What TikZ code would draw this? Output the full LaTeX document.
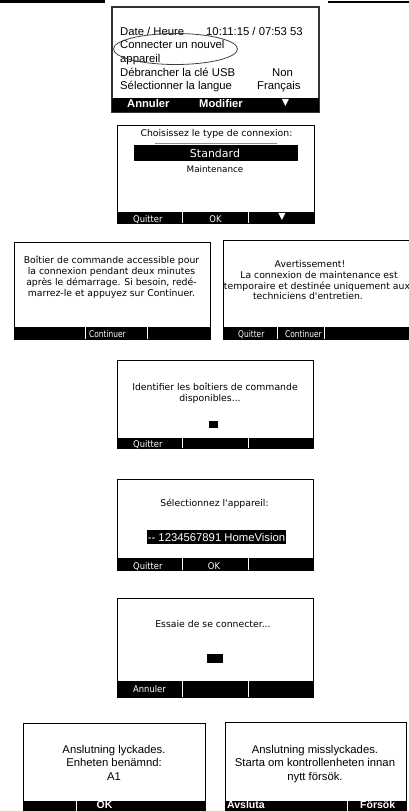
\documentclass[tikz,border=0pt]{standalone}
\usepackage{fontspec}
\setmainfont{Liberation Sans}
\newfontfamily\lcdfont{DejaVu Sans}
\newfontfamily\lcdbtnfont[FakeStretch=0.9]{DejaVu Sans}
\newfontfamily\lcdslimfont[FakeStretch=0.8]{DejaVu Sans}
\newfontfamily\symfont{DejaVu Sans}

\begin{document}
\begin{tikzpicture}[x=1pt,y=-1pt,
  frame/.style={draw=black, line width=1pt, fill=white},
  frameone/.style={draw=black!80, line width=1.4pt, fill=white},
  barfill/.style={fill=black},
  sep/.style={draw=white, line width=1pt},
  lcd/.style={font=\lcdfont\fontsize{9.3}{11}\selectfont, inner sep=0pt, anchor=base},
  lcdbtn/.style={font=\lcdbtnfont\fontsize{9.3}{11}\selectfont, inner sep=0pt, text=white, anchor=base west},
  lcdslim/.style={font=\lcdslimfont\fontsize{9.3}{11}\selectfont, inner sep=0pt, text=white, anchor=base west},
  arial/.style={font=\fontsize{11.3}{13}\selectfont, inner sep=0pt, anchor=base},
  arialleft/.style={arial, anchor=base west},
  boldbtn/.style={font=\bfseries\fontsize{11.2}{13}\selectfont, inner sep=0pt, text=white, anchor=base west},
  lowbtn/.style={font=\bfseries\fontsize{10.5}{12}\selectfont, inner sep=0pt, text=white, anchor=base west},
  tri/.style={font=\symfont\fontsize{9.5}{10}\selectfont, inner sep=0pt, text=white}
]
\useasboundingbox (0,0) rectangle (409,811);
\clip (0,0) rectangle (409,811);

% header rules
\fill (0,0) rectangle (105,2.5);
\fill (328,0.5) rectangle (409,3);

% ---------- settings menu ----------
\draw[frameone] (112,7) rectangle (319,112);
\fill[barfill] (112,98) rectangle (319,112);
\node[arialleft] (dh)   at (120,35) {Date / Heure};
\node[arialleft] (dhv)  at (206,35) {10:11:15 / 07:53 53};
\node[arialleft] (cn1)  at (120,48) {Connecter un nouvel};
\node[arialleft] (cn2)  at (120,62) {appareil};
\node[arialleft] (usb)  at (120,76) {Débrancher la clé USB};
\node[arialleft] (usbv) at (272,76) {Non};
\node[arialleft] (lng)  at (120,89) {Sélectionner la langue};
\node[arialleft] (lngv) at (257,89) {Français};
\node[boldbtn] (m1a) at (127,107) {Annuler};
\node[boldbtn] (m1b) at (199,107) {Modifier};
\node[tri] (m1c) at (285.5,103) {▼};
\draw[black!75, line width=0.8pt] (175.5,49) ellipse [x radius=62, y radius=15.5];

% ---------- connection type ----------
\draw[frame] (117,125) rectangle (314,223);
\fill[barfill] (117,212) rectangle (314,223);
\draw[sep] (182,212) -- (182,223);
\draw[sep] (248,212) -- (248,223);
\draw[black!45, line width=0.8pt] (155,143) -- (277,143);
\fill (134,145) rectangle (298,161);
\node[lcd] (ct) at (216.5,136) {Choisissez le type de connexion:};
\node[lcd, text=white, font=\lcdfont\fontsize{11}{12}\selectfont] (cstd) at (215,157.5) {Standard};
\node[lcd, font=\lcdfont\fontsize{8.8}{10}\selectfont] (cmnt) at (215,172) {Maintenance};
\node[lcdbtn] (c2q) at (133,222) {Quitter};
\node[lcdbtn, anchor=base] (c2ok) at (215.5,222) {OK};
\node[tri] (c2d) at (282,217) {▼};

% ---------- standard connection info ----------
\draw[frame] (14,242) rectangle (210,339);
\fill[barfill] (14,327) rectangle (210,339);
\draw[sep] (85,327) -- (85,339);
\draw[sep] (147,327) -- (147,339);
\node[lcd] (i1) at (111.5,263) {Boîtier de commande accessible pour};
\node[lcd] (i2) at (111.5,274.5) {la connexion pendant deux minutes};
\node[lcd] (i3) at (111.5,285.5) {après le démarrage. Si besoin, redé-};
\node[lcd] (i4) at (111.5,296.5) {marrez-le et appuyez sur Continuer.};
\node[lcdslim] (i5) at (89,337) {Continuer};

% ---------- maintenance warning ----------
\draw[frame] (223,240) rectangle (420,339);
\fill[barfill] (223,327) rectangle (420,339);
\draw[sep] (277,327) -- (277,339);
\draw[sep] (324,327) -- (324,339);
\node[lcd] (w1) at (310,267) {Avertissement!};
\node[lcd] (w2) at (319,278) {La connexion de maintenance est};
\node[lcd] (w3) at (317,289) {temporaire et destinée uniquement aux};
\node[lcd] (w4) at (308,299.5) {techniciens d'entretien.};
\node[lcdslim] (w5) at (238,337) {Quitter};
\node[lcdslim] (w6) at (285,337) {Continuer};

% ---------- searching ----------
\draw[frame] (117,360) rectangle (313,448);
\fill[barfill] (117,438) rectangle (313,448);
\draw[sep] (182,438) -- (182,448);
\draw[sep] (248,438) -- (248,448);
\node[lcd] (f1) at (215,390) {Identifier les boîtiers de commande};
\node[lcd] (f2) at (210,401) {disponibles...};
\fill (209,421) rectangle (218,428);
\node[lcdbtn] (f3) at (133,447) {Quitter};

% ---------- device selection ----------
\draw[frame] (117,479) rectangle (313,570);
\fill[barfill] (117,558) rectangle (313,570);
\draw[sep] (182,558) -- (182,570);
\draw[sep] (248,558) -- (248,570);
\node[lcd] (d1) at (214.5,506) {Sélectionnez l'appareil:};
\fill (147,530) rectangle (286,544);
\node[arial, text=white] (d2) at (216.5,541) {-{}- 1234567891 HomeVision};
\node[lcdbtn] (d3) at (133,569) {Quitter};
\node[lcdbtn, anchor=base] (d4) at (214,569) {OK};

% ---------- connecting ----------
\draw[frame] (117,598) rectangle (313,697);
\fill[barfill] (117,681) rectangle (313,697);
\draw[sep] (182,681) -- (182,697);
\draw[sep] (248,681) -- (248,697);
\node[lcd] (e1) at (213,627) {Essaie de se connecter...};
\fill (207,654) rectangle (223,663);
\node[lcdbtn] (e2) at (133,692) {Annuler};

% ---------- success ----------
\draw[frame] (23,723) rectangle (205,820);
\fill[barfill] (23,801) rectangle (205,820);
\draw[sep] (76,801) -- (76,820);
\node[arial] (ok1) at (114,753) {Anslutning lyckades.};
\node[arial] (ok2) at (114,766.5) {Enheten benämnd:};
\node[arial] (ok3) at (114,780) {A1};
\node[lowbtn, anchor=base] (ok4) at (104.5,808.5) {OK};

% ---------- failure ----------
\draw[frame] (225,722) rectangle (406,820);
\fill[barfill] (225,801) rectangle (406,820);
\draw[sep] (347,801) -- (347,820);
\node[arial] (no1) at (315,753) {Anslutning misslyckades.};
\node[arial] (no2) at (315,766.5) {Starta om kontrollenheten innan};
\node[arial] (no3) at (315,780) {nytt försök.};
\node[lowbtn] (no4) at (227,808.5) {Avsluta};
\node[lowbtn] (no5) at (360,808.5) {Försök};
\end{tikzpicture}
\end{document}
